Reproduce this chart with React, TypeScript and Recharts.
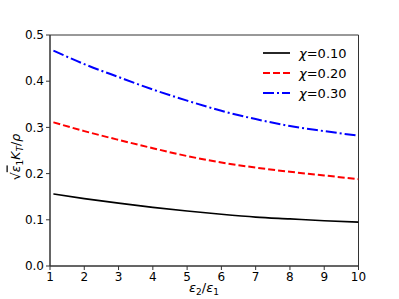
import React from "react";
import { LineChart, Line, XAxis, YAxis, ReferenceArea } from "recharts";

// epsilon2/epsilon1 sample points
const ratios = [1.1, 2, 3, 4, 5, 6, 7, 8, 9, 10];
// sqrt(eps1) K_T / rho for each chi
const chi010 = [0.156, 0.146, 0.136, 0.127, 0.119, 0.112, 0.106, 0.102, 0.098, 0.095];
const chi020 = [0.311, 0.292, 0.273, 0.255, 0.238, 0.224, 0.213, 0.204, 0.196, 0.188];
const chi030 = [0.466, 0.437, 0.409, 0.382, 0.358, 0.336, 0.318, 0.303, 0.292, 0.282];

const xTicks = [1, 2, 3, 4, 5, 6, 7, 8, 9, 10];
const yTicks = [0, 0.1, 0.2, 0.3, 0.4, 0.5];

const series = [
  { key: "c1", label: "0.10", color: "#000000", dash: undefined, width: 1.7 },
  { key: "c2", label: "0.20", color: "#ff0000", dash: "7 3", width: 2 },
  { key: "c3", label: "0.30", color: "#0000ff", dash: "11 3 2 3", width: 2 },
];

const data = ratios.map((r, i) => ({
  r,
  c1: chi010[i],
  c2: chi020[i],
  c3: chi030[i],
}));

const FONT = "DejaVu Sans";
const AXIS = "#333333";

function LegendBox() {
  return (
    <div
      style={{
        position: "absolute",
        left: 262,
        top: 43,
        fontFamily: FONT,
        fontSize: 13,
        color: "#000",
      }}
    >
      {series.map((s) => (
        <div key={s.key} style={{ display: "flex", alignItems: "center", height: 20 }}>
          <svg width={37} height={20}>
            <line
              x1={1}
              x2={28}
              y1={10}
              y2={10}
              stroke={s.color}
              strokeWidth={s.width}
              strokeDasharray={s.dash}
            />
          </svg>
          <span>
            <i>χ</i>={s.label}
          </span>
        </div>
      ))}
    </div>
  );
}

function YLabel() {
  return (
    <text
      transform="translate(19.5,157) rotate(-90)"
      textAnchor="middle"
      fontFamily={FONT}
      fontSize={12.5}
      fill="#000"
    >
      <tspan>√</tspan>
      <tspan fontStyle="italic" textDecoration="overline">ε</tspan>
      <tspan fontSize={9} dy={3}>1</tspan>
      <tspan fontStyle="italic" dy={-3}>K</tspan>
      <tspan fontStyle="italic" fontSize={9} dy={3}>T</tspan>
      <tspan dy={-3}>/</tspan>
      <tspan fontStyle="italic">ρ</tspan>
    </text>
  );
}

function XLabel() {
  return (
    <text x={204} y={292} textAnchor="middle" fontFamily={FONT} fontSize={13} fill="#000">
      <tspan fontStyle="italic">ε</tspan>
      <tspan fontSize={9} dy={3}>2</tspan>
      <tspan dy={-3}>/</tspan>
      <tspan fontStyle="italic">ε</tspan>
      <tspan fontSize={9} dy={3}>1</tspan>
    </text>
  );
}

export default function App() {
  return (
    <div
      style={{
        position: "absolute",
        left: 0,
        top: 0,
        width: 399,
        height: 299,
        background: "#fff",
      }}
    >
      <LineChart
        width={399}
        height={299}
        data={data}
        margin={{ top: 35, right: 40.5, bottom: 0, left: 0 }}
      >
        <XAxis
          dataKey="r"
          type="number"
          domain={[1, 10]}
          ticks={xTicks}
          allowDataOverflow
          height={33}
          tickSize={4}
          tickMargin={2}
          stroke={AXIS}
          tick={{ fill: "#000", fontFamily: FONT, fontSize: 12 }}
          label={<XLabel />}
        />
        <YAxis
          type="number"
          domain={[0, 0.5]}
          ticks={yTicks}
          allowDataOverflow
          width={50}
          tickSize={4}
          tickMargin={2}
          stroke={AXIS}
          tickFormatter={(v: number) => v.toFixed(1)}
          tick={{ fill: "#000", fontFamily: FONT, fontSize: 12 }}
          label={<YLabel />}
        />
        <ReferenceArea
          x1={1}
          x2={10}
          y1={0}
          y2={0.5}
          fill="none"
          stroke={AXIS}
          strokeWidth={1}
        />
        {series.map((s) => (
          <Line
            key={s.key}
            dataKey={s.key}
            type="monotone"
            stroke={s.color}
            strokeWidth={s.width}
            strokeDasharray={s.dash}
            dot={false}
            activeDot={false}
            isAnimationActive={false}
          />
        ))}
      </LineChart>
      <LegendBox />
    </div>
  );
}
